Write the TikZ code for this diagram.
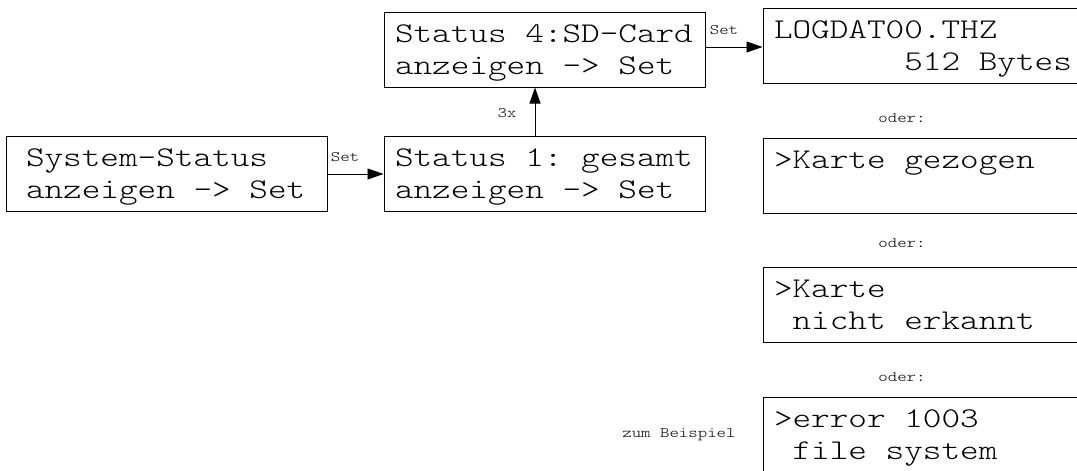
\documentclass[tikz,border=0pt]{standalone}
\usepackage{fontspec}
\newfontfamily\lcdfont[FakeStretch=1.24]{lmmonolt10-regular.otf}
\newcommand\lsp{\hphantom{0}}
\usetikzlibrary{arrows.meta}
\begin{document}
\begin{tikzpicture}[x=1pt,y=-1pt,
  lcd/.style={draw, line width=1pt, minimum width=321pt, minimum height=75pt,
    inner xsep=0pt, inner ysep=0pt, text width=299pt,
    font=\lcdfont\fontsize{28.6}{32}\selectfont,
    align=left, text height=22pt, text depth=37pt},
  tag/.style={font=\lcdfont\fontsize{14.5}{16}\selectfont, inner sep=0pt},
  arr/.style={-{Triangle[length=16pt,width=11pt]}, line width=0.9pt}]
\useasboundingbox (0,0) rectangle (1077,471);
\clip (0,0) rectangle (1077,471);
% left and middle boxes
\node[lcd, text width=281pt] (sys) at (166.5,174) {System-Status\\anzeigen\lsp->\lsp Set};
\node[lcd] (st1) at (544.5,174) {Status\lsp 1:\lsp gesamt\\anzeigen\lsp->\lsp Set};
\node[lcd] (st4) at (544.5,49.5) {Status\lsp 4:SD-Card\\anzeigen\lsp->\lsp Set};
% right column
\node[lcd] (log) at (923.5,45.5) {LOGDAT00.THZ\\\hphantom{0000000}512\lsp Bytes};
\node[lcd] (kg) at (923.5,176) {>Karte\lsp gezogen};
\node[lcd] (kne) at (923.5,305) {>Karte\\\lsp nicht\lsp erkannt};
\node[lcd] (err) at (923.5,434.5) {>error\lsp 1003\\\lsp file\lsp system};
% connectors
\draw[arr] (sys.east) -- (st1.west);
\draw[arr] ([xshift=-9.5pt]st1.north) -- ([xshift=-9.5pt]st4.south);
\draw[arr] ([yshift=2.5pt]st4.east) coordinate (c4) -- (c4 -| log.west);
% labels
\node[tag] (set1) at (345,157) {Set};
\node[tag] (set2) at (724,30) {Set};
\node[tag] (x3) at (507,113) {3x};
\node[tag] (or1) at (902,118) {oder:};
\node[tag] (or2) at (902,243) {oder:};
\node[tag] (or3) at (902,377) {oder:};
\node[tag] (bsp) at (679,435) {zum\lsp Beispiel};
\end{tikzpicture}
\end{document}
